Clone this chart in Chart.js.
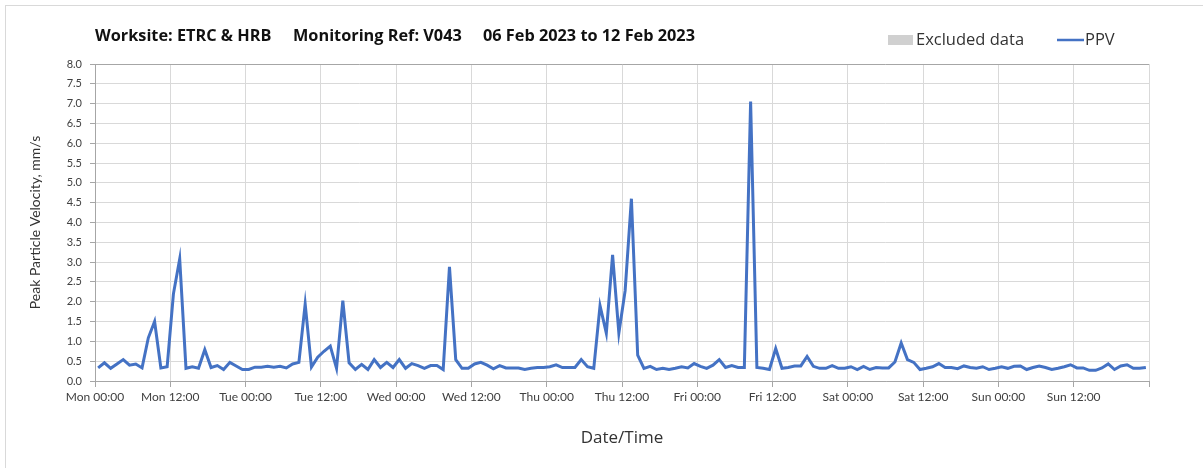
<!DOCTYPE html>
<html>
<head>
<meta charset="utf-8">
<script src="https://cdn.jsdelivr.net/npm/chart.js@4.4.0/dist/chart.umd.min.js"></script>
<style>
  html, body { margin: 0; padding: 0; background: #fff; overflow: hidden; }
  #wrap { position: relative; width: 1203px; height: 468px; overflow: hidden; }
  #frame { position: absolute; left: 5px; top: 5px; width: 1300px; height: 600px;
           border-left: 1px solid #d9d9d9; border-top: 1px solid #d9d9d9; }
  canvas { position: absolute; left: 0; top: 0; }
</style>
</head>
<body>
<div id="wrap">
  <div id="frame"></div>
  <canvas id="chart" width="1203" height="468"></canvas>
</div>
<script>
// header text
const titleParts = ["Worksite: ETRC & HRB", "Monitoring Ref: V043", "06 Feb 2023 to 12 Feb 2023"];

// x axis: hours from Mon 00:00, one label every 12 h
const xTickLabels = [
  "Mon 00:00", "Mon 12:00", "Tue 00:00", "Tue 12:00", "Wed 00:00", "Wed 12:00",
  "Thu 00:00", "Thu 12:00", "Fri 00:00", "Fri 12:00", "Sat 00:00", "Sat 12:00",
  "Sun 00:00", "Sun 12:00"
];

// hourly PPV (mm/s), one value per hour, Mon 00:00 -> Sun 24:00
const ppvMon = [0.33, 0.46, 0.32, 0.43, 0.54, 0.40, 0.43, 0.33, 1.09, 1.50, 0.33, 0.36,
                2.20, 3.08, 0.32, 0.36, 0.32, 0.79, 0.34, 0.39, 0.29, 0.47, 0.38, 0.29];
const ppvTue = [0.29, 0.35, 0.35, 0.37, 0.35, 0.37, 0.33, 0.43, 0.47, 1.94, 0.35, 0.60,
                0.75, 0.88, 0.32, 2.03, 0.46, 0.29, 0.42, 0.29, 0.54, 0.34, 0.47, 0.34];
const ppvWed = [0.54, 0.32, 0.44, 0.39, 0.32, 0.39, 0.39, 0.29, 2.88, 0.54, 0.32, 0.32,
                0.43, 0.47, 0.40, 0.31, 0.39, 0.33, 0.33, 0.33, 0.29, 0.32, 0.34, 0.34];
const ppvThu = [0.36, 0.41, 0.34, 0.34, 0.34, 0.54, 0.36, 0.32, 1.90, 1.21, 3.18, 1.21,
                2.28, 4.60, 0.65, 0.32, 0.37, 0.29, 0.32, 0.29, 0.32, 0.36, 0.33, 0.44];
const ppvFri = [0.37, 0.32, 0.40, 0.54, 0.34, 0.39, 0.34, 0.34, 7.05, 0.34, 0.32, 0.29,
                0.82, 0.32, 0.34, 0.38, 0.38, 0.62, 0.37, 0.32, 0.32, 0.39, 0.32, 0.32];
const ppvSat = [0.36, 0.29, 0.37, 0.29, 0.34, 0.33, 0.33, 0.48, 0.96, 0.54, 0.47, 0.29,
                0.32, 0.36, 0.44, 0.34, 0.34, 0.31, 0.38, 0.34, 0.32, 0.36, 0.29, 0.32];
const ppvSun = [0.36, 0.32, 0.37, 0.38, 0.29, 0.34, 0.38, 0.34, 0.29, 0.32, 0.36, 0.41,
                0.33, 0.33, 0.27, 0.27, 0.33, 0.43, 0.29, 0.38, 0.41, 0.32, 0.32, 0.34];

const ppv = [].concat(ppvMon, ppvTue, ppvWed, ppvThu, ppvFri, ppvSat, ppvSun);
// readings sit at the middle of each hour
const ppvPoints = ppv.map((v, i) => ({ x: i + 0.5, y: v }));

const FONT = "Lato, 'Open Sans', sans-serif";
const WIDE = "'Open Sans', Lato, sans-serif";

// title and legend drawn above the plot area
const headerPlugin = {
  id: "header",
  afterDraw(chart) {
    const ctx = chart.ctx;
    ctx.save();
    ctx.textBaseline = "middle";
    ctx.fillStyle = "#111";
    ctx.font = "bold 16.3px " + WIDE;
    const titleX = [95, 293, 483];
    titleParts.forEach((t, i) => ctx.fillText(t, titleX[i], 36));

    ctx.font = "16.5px " + WIDE;
    const ds = chart.data.datasets;
    // excluded data swatch
    ctx.fillStyle = ds[0].backgroundColor;
    ctx.fillRect(888, 35, 25, 10);
    ctx.fillStyle = "#333";
    ctx.fillText(ds[0].label, 916, 40);
    // PPV line
    ctx.strokeStyle = ds[1].borderColor;
    ctx.lineWidth = 2.5;
    ctx.beginPath();
    ctx.moveTo(1057, 40);
    ctx.lineTo(1084, 40);
    ctx.stroke();
    ctx.fillText(ds[1].label, 1085, 40);
    ctx.restore();
  }
};

new Chart(document.getElementById("chart"), {
  type: "line",
  data: {
    datasets: [
      {
        label: "Excluded data",
        data: [],
        backgroundColor: "#d0d0d0",
        borderColor: "#d0d0d0"
      },
      {
        label: "PPV",
        data: ppvPoints,
        borderColor: "#4472C4",
        borderWidth: 3,
        pointRadius: 0,
        tension: 0,
        fill: false
      }
    ]
  },
  options: {
    responsive: false,
    animation: false,
    layout: { padding: { top: 64, right: 54, left: 0, bottom: 0 } },
    plugins: {
      legend: { display: false },
      title: { display: false },
      tooltip: { enabled: false }
    },
    scales: {
      x: {
        type: "linear",
        min: 0,
        max: 168,
        afterFit: (s) => { s.height = 87; },
        ticks: {
          stepSize: 12,
          autoSkip: false,
          maxRotation: 0,
          padding: 3,
          color: "#404040",
          font: { family: FONT, size: 12 },
          callback: (v) => xTickLabels[v / 12] ?? ""
        },
        grid: { color: "#d9d9d9", tickLength: 6, tickColor: "#a6a6a6" },
        border: { color: "#a6a6a6" },
        title: {
          display: true,
          text: "Date/Time",
          color: "#333",
          font: { family: WIDE, size: 17 },
          padding: { top: 0, bottom: 20 }
        }
      },
      y: {
        min: 0,
        max: 8,
        afterFit: (s) => { s.width = 95; },
        ticks: {
          stepSize: 0.5,
          padding: 8,
          color: "#404040",
          font: { family: FONT, size: 11 },
          callback: (v) => v.toFixed(1)
        },
        grid: {
          color: (c) => (c.tick && c.tick.value === 8 ? "#a6a6a6" : "#d9d9d9"),
          tickLength: 5,
          tickColor: "#a6a6a6"
        },
        border: { color: "#a6a6a6" },
        title: {
          display: true,
          text: "Peak Particle Velocity, mm/s",
          color: "#333",
          font: { family: FONT, size: 14 },
          padding: { top: 27, bottom: 0 }
        }
      }
    }
  },
  plugins: [headerPlugin]
});
</script>
</body>
</html>
